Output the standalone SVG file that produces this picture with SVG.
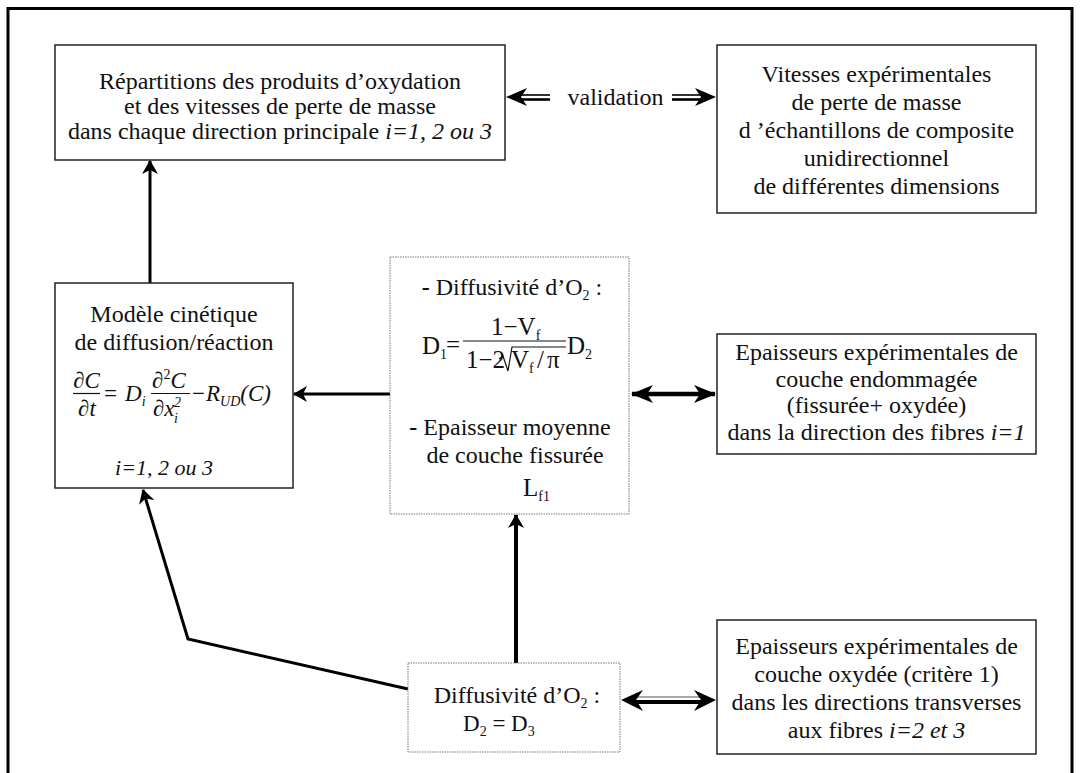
<svg xmlns="http://www.w3.org/2000/svg" width="1080" height="773" viewBox="0 0 1080 773">
<style>
text{font-family:"Liberation Serif","Times New Roman",serif;fill:#111;}
.t{font-size:24px;text-anchor:middle;}
.e{font-size:23px;}
.e2{font-size:25px;}
.it{font-style:italic;}
.sub{font-size:14px;}
.box{fill:#fff;stroke:#222;stroke-width:1.5;}
.dot{fill:#fff;stroke:#777;stroke-width:1;stroke-dasharray:1.5,1;}
.ln{fill:none;stroke:#000;}
.bar{stroke:#111;stroke-width:1.2;}
</style>
<defs>
<marker id="ah" viewBox="0 0 14 16" refX="13" refY="8" markerWidth="14" markerHeight="16" markerUnits="userSpaceOnUse" orient="auto">
<path d="M0,0 L14,8 L0,16 L4,8 Z" fill="#000"/>
</marker>
<marker id="ahb" viewBox="0 0 22 18" refX="21" refY="9" markerWidth="22" markerHeight="18" markerUnits="userSpaceOnUse" orient="auto-start-reverse">
<path d="M0,0 L22,9 L0,18 L6,9 Z" fill="#000"/>
</marker>
</defs>
<rect width="1080" height="773" fill="#fff"/>
<path d="M8,773 V8.5 H1072 V773" fill="none" stroke="#000" stroke-width="3"/>

<g id="connectors">
<line class="ln" x1="150" y1="283" x2="150" y2="161" stroke-width="3" marker-end="url(#ah)"/>
<line class="ln" x1="390" y1="394" x2="294" y2="394" stroke-width="3" marker-end="url(#ah)"/>
<line class="ln" x1="516" y1="663" x2="516" y2="515" stroke-width="4" marker-end="url(#ah)"/>
<polyline class="ln" points="408,689 188,639 143,490" stroke-width="3" stroke-linejoin="miter" marker-end="url(#ah)"/>
<line class="ln" x1="632" y1="394" x2="715" y2="394" stroke-width="4.5" marker-start="url(#ahb)" marker-end="url(#ahb)"/>
<g id="val-left">
<line x1="520" y1="95" x2="550" y2="95" stroke="#000" stroke-width="1.6"/>
<line x1="520" y1="99.5" x2="550" y2="99.5" stroke="#000" stroke-width="2.6"/>
<path d="M506,97 L527,88 L521,97 L527,106 Z" fill="#000"/>
</g>
<g id="val-right">
<line x1="672" y1="95" x2="702" y2="95" stroke="#000" stroke-width="1.6"/>
<line x1="672" y1="99.5" x2="702" y2="99.5" stroke="#000" stroke-width="2.6"/>
<path d="M716,97 L695,88 L701,97 L695,106 Z" fill="#000"/>
</g>
<g id="bottom-double">
<line x1="636" y1="697" x2="701" y2="697" stroke="#555" stroke-width="1.2"/>
<line x1="636" y1="702" x2="701" y2="702" stroke="#000" stroke-width="4"/>
<path d="M621,700 L643,690 L636,700 L643,711 Z" fill="#000"/>
<path d="M716,700 L694,690 L701,700 L694,711 Z" fill="#000"/>
</g>
<text class="t" x="615.5" y="105">validation</text>
</g>

<g id="n-repartitions">
<rect class="box" x="55" y="45" width="450" height="115"/>
<text class="t" x="280" y="89">Répartitions des produits d’oxydation</text>
<text class="t" x="280" y="114">et des vitesses de perte de masse</text>
<text class="t" x="280" y="139">dans chaque direction principale <tspan class="it">i=1, 2 ou 3</tspan></text>
</g>

<g id="n-vitesses">
<rect class="box" x="717" y="45" width="319" height="168"/>
<text class="t" x="876.5" y="82">Vitesses expérimentales</text>
<text class="t" x="876.5" y="110">de perte de masse</text>
<text class="t" x="876.5" y="138">d ’échantillons de composite</text>
<text class="t" x="876.5" y="166">unidirectionnel</text>
<text class="t" x="876.5" y="194">de différentes dimensions</text>
</g>

<g id="n-modele">
<rect class="box" x="55" y="283" width="238" height="205"/>
<text class="t" x="174" y="322">Modèle cinétique</text>
<text class="t" x="174" y="350">de diffusion/réaction</text>
<text class="e it" x="86.5" y="388" text-anchor="middle">∂C</text>
<line class="bar" x1="73" y1="393.5" x2="100" y2="393.5"/>
<text class="e it" x="87" y="416" text-anchor="middle">∂t</text>
<text class="e" x="104" y="401">=</text>
<text class="e it" x="125" y="401">D<tspan class="sub" dy="5">i</tspan></text>
<text class="e it" x="152" y="388">∂<tspan class="sub" dy="-9" font-style="normal">2</tspan><tspan dy="9">C</tspan></text>
<line class="bar" x1="151" y1="393.5" x2="190" y2="393.5"/>
<text class="e it" x="153" y="416">∂x</text>
<text class="sub it" x="174" y="407">2</text>
<text class="sub it" x="174" y="423">i</text>
<text class="e" x="192" y="401">−</text>
<text class="e it" x="206" y="401">R<tspan class="sub" dy="5">UD</tspan><tspan dy="-5">(C)</tspan></text>
<text class="t it" x="164" y="475" style="font-size:22px">i=1, 2 ou 3</text>
</g>

<g id="n-d1">
<rect class="dot" x="390" y="257" width="239" height="257"/>
<text class="t" x="512" y="295"><tspan font-weight="bold">-</tspan> Diffusivité d’O<tspan class="sub" dy="5">2</tspan><tspan dy="-5"> :</tspan></text>
<text class="e2" x="422" y="354">D<tspan class="sub" dy="5">1</tspan></text>
<text class="e2" x="446" y="353">=</text>
<text class="e2" x="491" y="335">1−V<tspan class="sub" dy="5">f</tspan></text>
<line class="bar" x1="463" y1="341" x2="566" y2="341"/>
<text class="e2" x="466" y="368">1−2</text>
<path d="M499,359 L503,356 L508,371 L512,347 L566,347" fill="none" stroke="#111" stroke-width="1.2"/>
<text class="e2" x="511" y="368">V<tspan class="sub" dy="5">f</tspan></text>
<text class="e2" x="537" y="368">/</text>
<text class="e2" x="547" y="368">π</text>
<text class="e2" x="567" y="354">D<tspan class="sub" dy="5">2</tspan></text>
<text class="t" x="510" y="435"><tspan font-weight="bold">-</tspan> Epaisseur moyenne</text>
<text class="t" x="515" y="463">de couche fissurée</text>
<text class="e2" x="523" y="496">L<tspan class="sub" dy="5">f1</tspan></text>
</g>

<g id="n-endommagee">
<rect class="box" x="717" y="334" width="319" height="120"/>
<text class="t" x="876.5" y="360">Epaisseurs expérimentales de</text>
<text class="t" x="876.5" y="387">couche endommagée</text>
<text class="t" x="876.5" y="413">(fissurée+ oxydée)</text>
<text class="t" x="876.5" y="440">dans la direction des fibres <tspan class="it">i=1</tspan></text>
</g>

<g id="n-d2d3">
<rect class="dot" x="408" y="663" width="212" height="89"/>
<text class="t" x="517" y="703">Diffusivité d’O<tspan class="sub" dy="5">2</tspan><tspan dy="-5"> :</tspan></text>
<text class="e" x="463" y="731">D<tspan class="sub" dy="5">2</tspan><tspan dy="-5"> = D</tspan><tspan class="sub" dy="5">3</tspan></text>
</g>

<g id="n-oxydee">
<rect class="box" x="717" y="620" width="319" height="134"/>
<text class="t" x="876.5" y="654">Epaisseurs expérimentales de</text>
<text class="t" x="876.5" y="682">couche oxydée (critère 1)</text>
<text class="t" x="876.5" y="710">dans les directions transverses</text>
<text class="t" x="876.5" y="738">aux fibres <tspan class="it">i=2 et 3</tspan></text>
</g>
</svg>
